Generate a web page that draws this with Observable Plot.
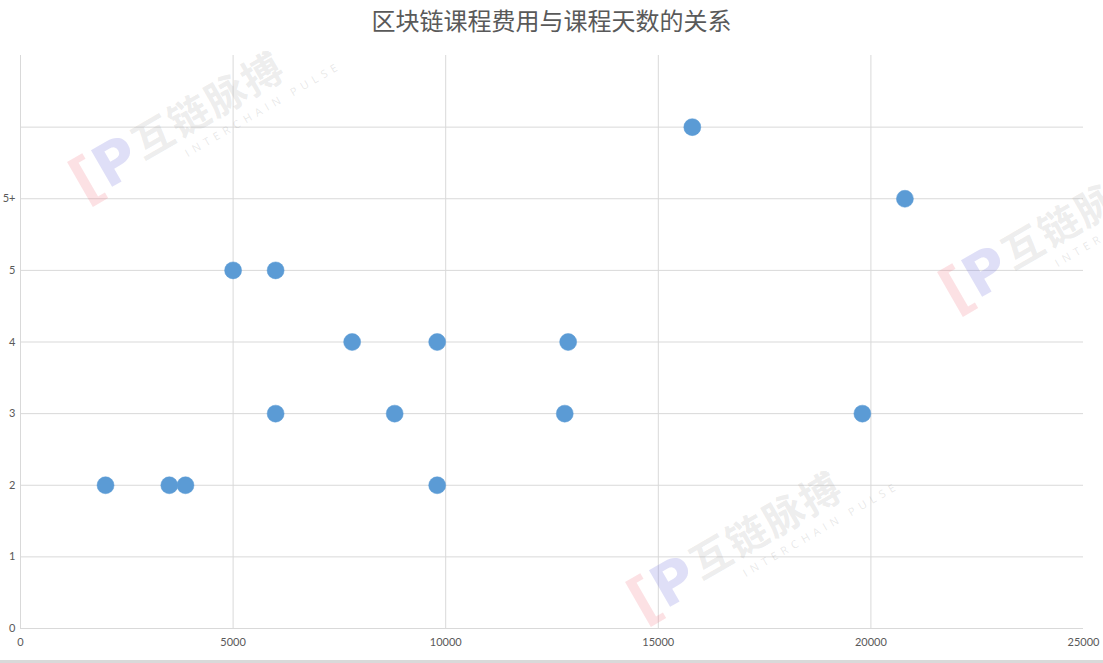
<!DOCTYPE html>
<html>
<head>
<meta charset="utf-8">
<script src="https://cdn.jsdelivr.net/npm/d3@7"></script>
<script src="https://cdn.jsdelivr.net/npm/@observablehq/plot@0.6"></script>
<style>
  html, body { margin: 0; padding: 0; background: #fff; }
  #wrap { position: relative; width: 1103px; height: 663px; overflow: hidden; }
  #title { height: 40px; line-height: 40px; text-align: center; font-family: "Noto Sans CJK SC", sans-serif; font-size: 24px; color: #595959; }
  #chart svg { display: block; }
  .wm { position: absolute; transform: rotate(-30deg); transform-origin: left top; pointer-events: none; white-space: nowrap; }
  .wm .cn { font-family: "Noto Sans CJK SC", sans-serif; font-size: 40px; font-weight: bold; color: rgba(150,150,150,0.18); letter-spacing: 2px; }
  .wm .en { font-family: "Open Sans", sans-serif; font-size: 11px; color: rgba(150,150,150,0.22); letter-spacing: 5px; margin-left: 40px; margin-top: -4px; }
  .wm .logo { position: absolute; left: -72px; top: 0px; font-family: "DejaVu Sans", sans-serif; font-size: 58px; font-weight: bold; }
  .wm .logo .i { color: rgba(240,120,130,0.22); }
  .wm .logo .p { color: rgba(110,110,220,0.22); }
  #clipR { position: absolute; left: 0; top: 0; width: 1103px; height: 663px; overflow: hidden; }
  #bottom { position: absolute; left: 0; bottom: 0; width: 1103px; height: 3px; background: #d9d9d9; }
</style>
</head>
<body>
<div id="wrap">
  <div id="title">区块链课程费用与课程天数的关系</div>
  <div id="chart"></div>
  <div class="wm" style="left:120px; top:120px;"><div class="logo"><span class="i">[</span><span class="p">P</span></div><div class="cn">互链脉搏</div><div class="en">INTERCHAIN PULSE</div></div>
  <div id="clipR"><div class="wm" style="left:990px; top:230px;"><div class="logo"><span class="i">[</span><span class="p">P</span></div><div class="cn">互链脉搏</div><div class="en">INTERCHAIN PULSE</div></div></div>
  <div class="wm" style="left:678px; top:540px;"><div class="logo"><span class="i">[</span><span class="p">P</span></div><div class="cn">互链脉搏</div><div class="en">INTERCHAIN PULSE</div></div>
  <div id="bottom"></div>
</div>
<script>
// Course fee (x) and course days (y)
const fees = [2000, 3500, 3880, 5000, 6000, 6000, 7800, 8800, 9800, 9800, 12880, 12800, 15800, 20800, 19800];
const days = [2, 2, 2, 5, 5, 3, 4, 3, 4, 2, 4, 3, 7, 6, 3];

const xTicks = [0, 5000, 10000, 15000, 20000, 25000];
const yTicks = [0, 1, 2, 3, 4, 5, 6];
const yTickLabels = ["0", "1", "2", "3", "4", "5", "5+"];
const yGrid = [1, 2, 3, 4, 5, 6, 7];
const xGrid = [5000, 10000, 15000, 20000];

const data = fees.map((f, i) => ({fee: f, day: days[i]}));

const chart = Plot.plot({
  width: 1103,
  height: 623,
  marginTop: 15,
  marginBottom: 35,
  marginLeft: 20,
  marginRight: 20,
  style: {fontFamily: "Lato, 'Open Sans', sans-serif", fontSize: "11px", color: "#595959", background: "#fff"},
  x: {domain: [0, 25000], ticks: xTicks, tickFormat: d => String(d), tickSize: 0, tickPadding: 10, label: null},
  y: {domain: [0, 8], ticks: yTicks, tickFormat: d => yTickLabels[yTicks.indexOf(d)], tickSize: 0, tickPadding: 5, label: null},
  marks: [
    Plot.ruleY(yGrid, {stroke: "#d9d9d9", strokeWidth: 1}),
    Plot.ruleX(xGrid, {stroke: "#d9d9d9", strokeWidth: 1}),
    Plot.ruleY([0], {stroke: "#d9d9d9", strokeWidth: 1}),
    Plot.ruleX([0], {stroke: "#d9d9d9", strokeWidth: 1}),
    Plot.axisX({ticks: xTicks, tickFormat: d => String(d), tickSize: 0, tickPadding: 10, fill: "#595959"}),
    Plot.axisY({ticks: yTicks, tickFormat: d => yTickLabels[yTicks.indexOf(d)], tickSize: 0, tickPadding: 5, fill: "#595959"}),
    Plot.dot(data, {x: "fee", y: "day", r: 8.5, fill: "#5b9bd5", stroke: "#5b9bd5", strokeWidth: 0.5})
  ]
});
document.getElementById("chart").appendChild(chart);
</script>
</body>
</html>
